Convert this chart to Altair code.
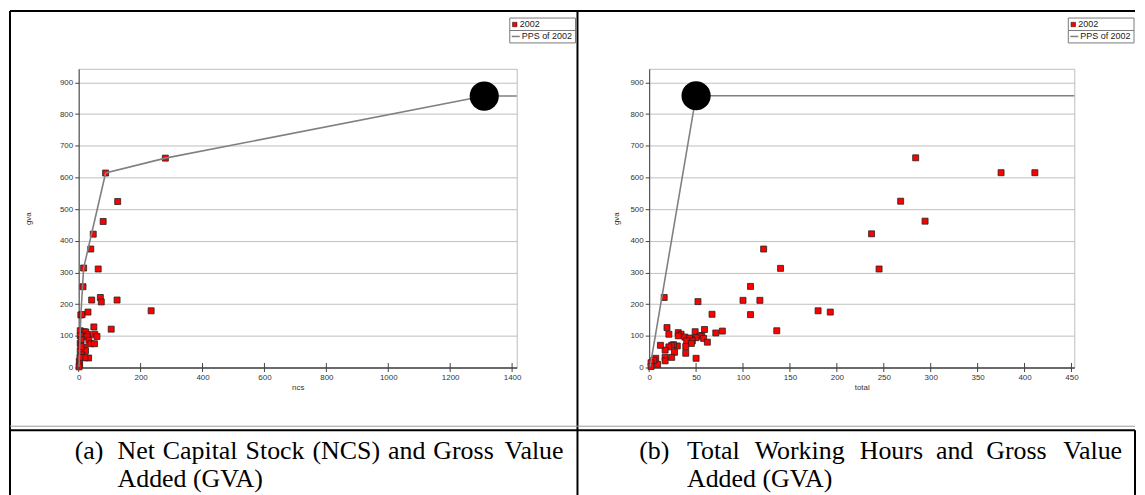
import altair as alt
import pandas as pd

# ---------------- data ----------------
# panel (a): net capital stock vs gross value added
ncs = [280, 87, 126, 79, 47, 39, 16, 63, 14, 42, 70, 73, 124, 234, 7, 11, 30, 105, 49, 5,
       18, 23, 30, 52, 59, 14, 27, 33, 39, 51, 18, 22, 5, 5, 8, 9, 15, 32, 20, 2, 3, 1, 5, 8, 4]
gva_a = [661, 614, 524, 461, 421, 374, 314, 311, 255, 213, 221, 207, 213, 179, 166, 167, 175, 121, 128, 116,
         113, 112, 104, 105, 98, 98, 97, 86, 75, 75, 64, 53, 53, 76, 66, 40, 31, 30, 31, 19, 8, 2, 100, 88, 32]
pps_a_x = [1, 7, 16, 87, 280, 1310, 1415]
pps_a_y = [2, 166, 314, 614, 661, 857, 857]
best_a_x = [1310]
best_a_y = [857]

# panel (b): total working hours vs gross value added
hours = [284, 375, 411, 268, 294, 237, 122, 140, 245, 108, 16, 52, 100, 118, 180, 193, 108, 67, 19, 59,
         136, 78, 71, 49, 31, 21, 34, 31, 56, 54, 38, 50, 58, 45, 43, 62, 46, 40, 45, 39,
         30, 26, 24, 21, 17, 27, 39, 50, 24, 17, 17, 12, 9, 7, 5, 2, 2]
gva_b = [662, 615, 615, 525, 462, 422, 374, 313, 311, 256, 221, 208, 212, 212, 179, 175, 167, 168, 126, 120,
         116, 115, 109, 113, 110, 105, 105, 100, 101, 99, 96, 94, 92, 88, 93, 80, 84, 84, 76, 66,
         68, 72, 70, 65, 55, 48, 45, 29, 32, 32, 21, 70, 10, 29, 23, 15, 3]
pps_b_x = [1, 50, 453]
pps_b_y = [3, 858, 858]
best_b_x = [50]
best_b_y = [858]

y_ticks = [0, 100, 200, 300, 400, 500, 600, 700, 800, 900]
x_ticks_a = [0, 200, 400, 600, 800, 1000, 1200, 1400]
x_ticks_b = [0, 50, 100, 150, 200, 250, 300, 350, 400, 450]
legend_labels = ["2002", "PPS of 2002"]
caption_a_words = ["(a)", "Net", "Capital", "Stock", "(NCS)", "and", "Gross", "Value", "Added (GVA)"]
caption_b_words = ["(b)", "Total", "Working", "Hours", "and", "Gross", "Value", "Added (GVA)"]

SANS = "Liberation Sans"
SERIF = "Liberation Serif"
ONE = pd.DataFrame({"k": [0]})


def panel(xs, ys, px, py, bx, by, xdom, xticks, xtitle, w, h, ytitle_x, leg_x):
    pts = pd.DataFrame({"x": xs, "y": ys})
    pps = pd.DataFrame({"x": px, "y": py, "o": list(range(len(px)))})
    best = pd.DataFrame({"x": bx, "y": by})
    tks = pd.DataFrame({"x": xticks, "y": [0] * len(xticks)})

    xsc = alt.Scale(domain=xdom, nice=False, zero=True)
    ysc = alt.Scale(domain=[0, 943], nice=False)
    xax = alt.Axis(values=xticks, grid=False, title=xtitle, format="d", labelFont=SANS, labelFontSize=8,
                   labelColor="#333", titleFont=SANS, titleFontSize=8, titleFontWeight="normal",
                   titleColor="#333", domainColor="#6a6a6a", domainWidth=2, ticks=False,
                   labelFlush=False, labelPadding=6, titlePadding=2)
    yax = alt.Axis(values=y_ticks, grid=True, gridColor="#c0c0c0", title="gva", format="d",
                   labelFont=SANS, labelFontSize=8, labelColor="#333", titleFont=SANS,
                   titleFontSize=8, titleFontWeight="normal", titleColor="#333",
                   domainColor="#444", tickColor="#444", tickSize=4, labelPadding=2,
                   titleX=ytitle_x, titleY=h / 2)

    X = alt.X("x:Q", scale=xsc, axis=xax)
    Y = alt.Y("y:Q", scale=ysc, axis=yax)

    base = alt.Chart(pts).mark_square(size=36, fill="#ff0000", stroke="#222", strokeWidth=0.8,
                                      opacity=1).encode(x=X, y=Y)
    ticks = alt.Chart(tks).mark_tick(size=9, thickness=1, color="#444", opacity=1, clip=False).encode(
        x=X, y=Y)
    line = alt.Chart(pps).mark_line(color="#808080", strokeWidth=1.6).encode(x=X, y=Y, order="o:Q")
    dot = alt.Chart(best).mark_circle(size=860, color="#000", opacity=1).encode(x=X, y=Y)

    # legend box (drawn as annotation)
    lx = leg_x
    box = alt.Chart(ONE).mark_rect(fill="white", stroke="#7a7a7a", strokeWidth=1, clip=False).encode(
        x=alt.value(lx), x2=alt.value(lx + 66), y=alt.value(-51), y2=alt.value(-26))
    div = alt.Chart(ONE).mark_rule(color="#7a7a7a", strokeWidth=1, clip=False).encode(
        x=alt.value(lx), x2=alt.value(lx + 66), y=alt.value(-38.5))
    sq = alt.Chart(ONE).mark_square(size=20, fill="#ff0000", stroke="#222", strokeWidth=0.6,
                                    opacity=1, clip=False).encode(
        x=alt.value(lx + 5), y=alt.value(-44.5))
    t1 = alt.Chart(ONE).mark_text(text=legend_labels[0], font=SANS, fontSize=9, color="#222",
                                  align="left", baseline="middle", clip=False).encode(
        x=alt.value(lx + 10), y=alt.value(-45))
    ln = alt.Chart(ONE).mark_rule(color="#808080", strokeWidth=1.5, clip=False).encode(
        x=alt.value(lx + 2), x2=alt.value(lx + 10), y=alt.value(-32.5))
    t2 = alt.Chart(ONE).mark_text(text=legend_labels[1], font=SANS, fontSize=9, color="#222",
                                  align="left", baseline="middle", clip=False).encode(
        x=alt.value(lx + 12), y=alt.value(-32.5))
    return [base, ticks, line, dot, box, div, sq, t1, ln, t2]


def rule(x, x2, y, y2, color="#000", sw=2):
    return alt.Chart(ONE).mark_rule(color=color, strokeWidth=sw, clip=False).encode(
        x=alt.value(x), x2=alt.value(x2), y=alt.value(y), y2=alt.value(y2))


def text(s, x, y, align="left", size=26):
    return alt.Chart(ONE).mark_text(text=s, font=SERIF, fontSize=size, color="#000",
                                    align=align, baseline="alphabetic", clip=False).encode(
        x=alt.value(x), y=alt.value(y))


W1, W2, H = 440, 427, 300
# panel 1 plot origin sits at page (79, 69); panel 2 at (652, 69)
layers_a = panel(ncs, gva_a, pps_a_x, pps_a_y, best_a_x, best_a_y, [0, 1415], x_ticks_a, "ncs",
                 W1, H, -46, 433)
borders = [
    rule(-69, 1061, -58, -58),          # top border
    rule(-69, -69, -58, 428),           # left border
    rule(501, 501, -58, 428),           # middle border
    rule(-69, 1061, 359, 359, "#9a9a9a", 1),
    rule(-69, 1061, 363, 363),          # row border
    rule(1061, 1061, 363, 428),         # right border of caption row
]
# caption (a): justified first line, page x -> panel-relative
wx_a = [-4, 39, 84.5, 167.6, 234.8, 310.7, 356.2]
cap_a = [text(wd, xx, 392) for wd, xx in zip(caption_a_words[:7], wx_a)]
cap_a.append(text(caption_a_words[7], 487, 392, align="right"))
cap_a.append(text(caption_a_words[8], 39, 420))
left = alt.layer(*(layers_a + borders + cap_a)).properties(width=W1, height=H)

layers_b = panel(hours, gva_b, pps_b_x, pps_b_y, best_b_x, best_b_y, [0, 453], x_ticks_b, "total",
                 W2, H, -29, 421)
wx_b = [-10, 38, 106, 211.5, 288, 338.6]
cap_b = [text(wd, xx, 392) for wd, xx in zip(caption_b_words[:6], wx_b)]
cap_b.append(text(caption_b_words[6], 475, 392, align="right"))
cap_b.append(text(caption_b_words[7], 38, 420))
right = alt.layer(*(layers_b + cap_b)).properties(width=W2, height=H)

chart = alt.hconcat(left, right, spacing=133, bounds="flush").properties(
    padding=0, background="white"
).configure_view(stroke="#bdbdbd", strokeWidth=1)

chart.save("out.html", embed_options={"renderer": "svg", "actions": False})
